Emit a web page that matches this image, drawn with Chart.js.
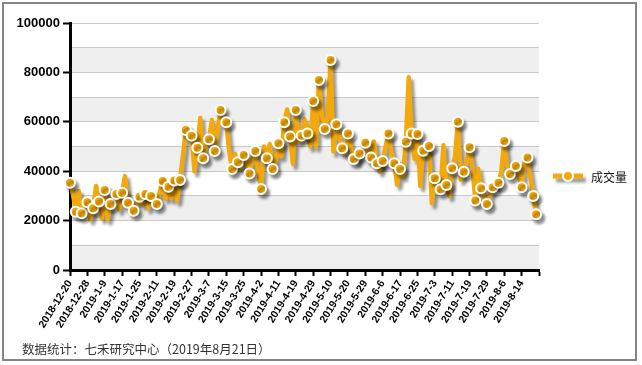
<!DOCTYPE html>
<html lang="zh">
<head>
  <meta charset="UTF-8">
  <title>成交量</title>
  <script src="https://cdn.jsdelivr.net/npm/chart.js"></script>
  <style>
    html, body { margin: 0; padding: 0; background: #fff; }
    #wrap { width: 642px; height: 365px; }
  </style>
</head>
<body>
<div id="wrap"><canvas id="grafik" width="642" height="365"></canvas></div>

<script>
  // tick labels on the x axis, one every 6 trading days
  const xTickLabels = [
    '2018-12-20', '2018-12-28', '2019-1-9', '2019-1-17', '2019-1-25', '2019-2-11',
    '2019-2-19', '2019-2-27', '2019-3-7', '2019-3-15', '2019-3-25', '2019-4-2',
    '2019-4-11', '2019-4-19', '2019-4-29', '2019-5-10', '2019-5-20', '2019-5-29',
    '2019-6-6', '2019-6-17', '2019-6-25', '2019-7-3', '2019-7-11', '2019-7-19',
    '2019-7-29', '2019-8-6', '2019-8-14'
  ];
  const tickStep = 6;

  // daily volume, 2018-12-20 .. 2019-8-21
  const volume = [
    35300, 31000, 23600, 32000, 23000, 26500, 27400, 20500, 25000, 34000,
    27700, 21000, 32400, 20500, 26700, 31500, 30800, 24500, 31300, 38000,
    27200, 26000, 24000, 27500, 29700, 26500, 30800, 25000, 30000, 28500,
    26700, 31500, 36000, 29000, 33700, 29000, 36200, 28000, 36400, 46000,
    56700, 55000, 54400, 40000, 49500, 61500, 45200, 50000, 52900, 60700,
    48200, 57000, 64800, 62000, 59800, 48000, 40900, 47000, 43600, 41000,
    46600, 44000, 39100, 45000, 48200, 40000, 32800, 50000, 45200, 51000,
    40900, 44000, 51300, 46000, 59800, 65000, 54000, 43000, 64800, 52000,
    54400, 61000, 55300, 50000, 68400, 50000, 76900, 63000, 57100, 62000,
    85000, 48000, 59000, 55000, 49300, 47000, 55300, 50000, 44900, 44000,
    47200, 48000, 51500, 47000, 45500, 52000, 43200, 40000, 44100, 50000,
    55300, 48000, 43200, 34500, 40900, 38000, 51900, 78000, 55300, 45000,
    55100, 34000, 48300, 47000, 50200, 27000, 37100, 35000, 32700, 50500,
    34400, 30000, 41200, 46000, 60000, 36500, 39800, 44000, 49700, 42000,
    28100, 41000, 33100, 30000, 26700, 30000, 33500, 34000, 35300, 40000,
    52200, 42000, 38900, 40000, 42100, 38000, 33500, 44000, 45500, 38000,
    30000, 22600
  ];

  const seriesName = '成交量';
  const orange = '#F3A90B';
  const footerText = '数据统计：七禾研究中心（2019年8月21日）';

  // grey/white bands behind the plot
  const bandPlugin = {
    id: 'bands',
    beforeDraw(chart) {
      const { ctx, chartArea: a, scales: { y } } = chart;
      ctx.save();
      ctx.fillStyle = '#fff';
      ctx.fillRect(0, 0, chart.width, chart.height);
      ctx.fillStyle = '#efefef';
      for (let v = 0; v < 100000; v += 20000) {
        const top = y.getPixelForValue(v + 10000);
        const bot = y.getPixelForValue(v);
        ctx.fillRect(a.left, top, a.right - a.left, bot - top);
      }
      ctx.restore();
    }
  };

  function setShadow(ctx) {
    ctx.shadowColor = 'rgba(0,0,0,0.4)';
    ctx.shadowOffsetX = 3;
    ctx.shadowOffsetY = 4;
    ctx.shadowBlur = 3;
  }

  const shadowPlugin = {
    id: 'shadow',
    beforeDatasetDraw(chart) {
      chart.ctx.save();
      setShadow(chart.ctx);
    },
    afterDatasetDraw(chart) {
      chart.ctx.restore();
    }
  };

  // frame, legend and source note
  const extrasPlugin = {
    id: 'extras',
    afterDraw(chart) {
      const ctx = chart.ctx;
      ctx.save();
      ctx.strokeStyle = '#858585';
      ctx.lineWidth = 2;
      ctx.strokeRect(3, 3, 633, 357);

      // legend
      const ly = 176;
      ctx.save();
      setShadow(ctx);
      ctx.strokeStyle = orange;
      ctx.lineWidth = 5;
      ctx.beginPath();
      ctx.moveTo(553, ly);
      ctx.lineTo(583, ly);
      ctx.stroke();
      ctx.restore();
      ctx.beginPath();
      ctx.arc(568, ly, 5, 0, Math.PI * 2);
      ctx.fillStyle = orange;
      ctx.fill();
      ctx.strokeStyle = '#fff';
      ctx.lineWidth = 2;
      ctx.stroke();

      ctx.fillStyle = '#111';
      ctx.font = '12px "Noto Sans CJK SC", sans-serif';
      ctx.textBaseline = 'middle';
      ctx.textAlign = 'left';
      ctx.fillText(chart.data.datasets[0].label, 591, ly + 1);

      ctx.fillStyle = '#333';
      ctx.font = '12.5px "Noto Sans CJK SC", sans-serif';
      ctx.fillText(footerText, 22, 349);
      ctx.restore();
    }
  };

  const ctx = document.getElementById('grafik').getContext('2d');
  new Chart(ctx, {
    type: 'line',
    data: {
      datasets: [{
        label: seriesName,
        data: volume.map((v, i) => ({ x: i, y: v })),
        borderColor: orange,
        backgroundColor: orange,
        borderWidth: 4.5,
        borderJoinStyle: 'round',
        tension: 0,
        clip: false,
        pointRadius: c => (c.dataIndex % 2 === 0 || c.dataIndex === volume.length - 1) ? 5 : 0,
        pointHoverRadius: 5,
        pointBorderColor: '#fff',
        pointBorderWidth: 2,
        pointBackgroundColor: orange,
        fill: false
      }]
    },
    options: {
      responsive: false,
      animation: false,
      layout: { padding: { top: 23, right: 103, bottom: 0, left: 0 } },
      plugins: {
        legend: { display: false },
        tooltip: { enabled: false }
      },
      scales: {
        x: {
          type: 'linear',
          min: 0,
          max: xTickLabels.length * tickStep,
          afterFit: s => { s.height = 95; },
          border: { color: '#000', width: 3 },
          grid: {
            drawOnChartArea: false,
            drawTicks: true,
            tickLength: 6,
            tickWidth: 2,
            tickColor: '#000'
          },
          ticks: {
            stepSize: tickStep,
            autoSkip: false,
            maxRotation: 58,
            minRotation: 58,
            padding: 2,
            color: '#000',
            font: { family: 'Liberation Sans, Arial, sans-serif', size: 10.5, weight: 'bold' },
            callback: v => xTickLabels[v / tickStep] || ''
          }
        },
        y: {
          min: 0,
          max: 100000,
          afterFit: s => { s.width = 70; },
          border: { color: '#000', width: 3 },
          grid: {
            color: '#c9c9c9',
            lineWidth: 1,
            tickLength: 7,
            tickWidth: 2,
            tickColor: c => (c.tick && c.tick.value % 20000 === 0) ? '#000' : 'rgba(0,0,0,0)'
          },
          ticks: {
            stepSize: 10000,
            padding: 3,
            color: '#000',
            font: { family: 'Liberation Sans, Arial, sans-serif', size: 13, weight: 'bold' },
            callback: v => v % 20000 === 0 ? String(v) : ''
          }
        }
      }
    },
    plugins: [bandPlugin, shadowPlugin, extrasPlugin]
  });
</script>
</body>
</html>
